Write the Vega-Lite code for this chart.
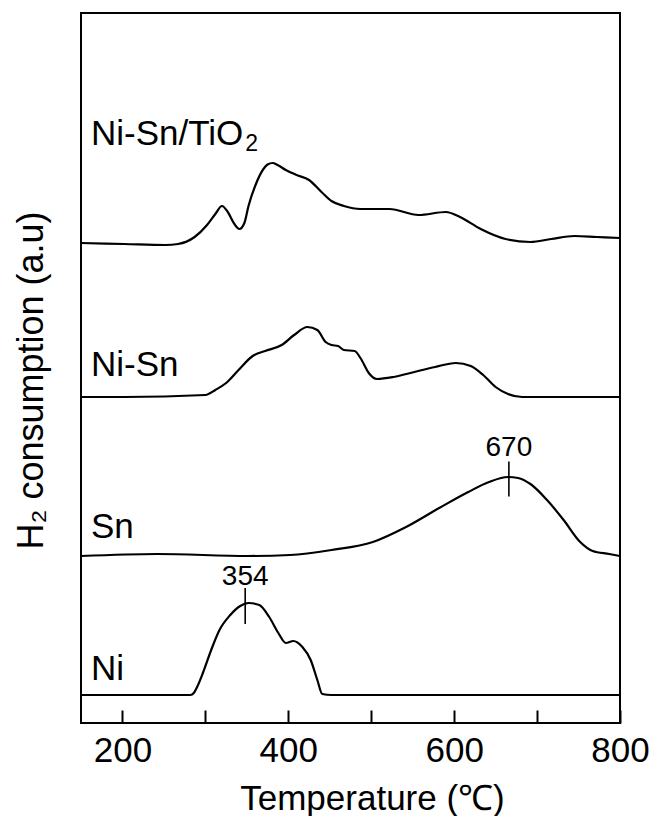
{
  "$schema": "https://vega.github.io/schema/vega-lite/v6.json",
  "width": 539,
  "height": 710,
  "autosize": "none",
  "padding": {"left": 81, "top": 13, "right": 31, "bottom": 93},
  "background": "white",
  "config": {"view": {"stroke": "black", "strokeWidth": 2}, "font": "Liberation Sans"},
  "datasets": {
    "curves": [
      {"s": "Ni-Sn/TiO2", "T": 150, "v": 480}, {"s": "Ni-Sn/TiO2", "T": 202, "v": 479}, {"s": "Ni-Sn/TiO2", "T": 252, "v": 478},
      {"s": "Ni-Sn/TiO2", "T": 267, "v": 479}, {"s": "Ni-Sn/TiO2", "T": 287, "v": 486}, {"s": "Ni-Sn/TiO2", "T": 302, "v": 498},
      {"s": "Ni-Sn/TiO2", "T": 312, "v": 509}, {"s": "Ni-Sn/TiO2", "T": 320, "v": 517}, {"s": "Ni-Sn/TiO2", "T": 327, "v": 511},
      {"s": "Ni-Sn/TiO2", "T": 335, "v": 499}, {"s": "Ni-Sn/TiO2", "T": 341, "v": 494}, {"s": "Ni-Sn/TiO2", "T": 347, "v": 500},
      {"s": "Ni-Sn/TiO2", "T": 352, "v": 517}, {"s": "Ni-Sn/TiO2", "T": 360, "v": 537}, {"s": "Ni-Sn/TiO2", "T": 370, "v": 554},
      {"s": "Ni-Sn/TiO2", "T": 375, "v": 558.5}, {"s": "Ni-Sn/TiO2", "T": 381, "v": 560}, {"s": "Ni-Sn/TiO2", "T": 387, "v": 558},
      {"s": "Ni-Sn/TiO2", "T": 397, "v": 553}, {"s": "Ni-Sn/TiO2", "T": 410, "v": 548}, {"s": "Ni-Sn/TiO2", "T": 425, "v": 543},
      {"s": "Ni-Sn/TiO2", "T": 440, "v": 531}, {"s": "Ni-Sn/TiO2", "T": 452, "v": 522}, {"s": "Ni-Sn/TiO2", "T": 467, "v": 517},
      {"s": "Ni-Sn/TiO2", "T": 487, "v": 514}, {"s": "Ni-Sn/TiO2", "T": 522, "v": 514}, {"s": "Ni-Sn/TiO2", "T": 557, "v": 508},
      {"s": "Ni-Sn/TiO2", "T": 590, "v": 511}, {"s": "Ni-Sn/TiO2", "T": 607, "v": 506}, {"s": "Ni-Sn/TiO2", "T": 632, "v": 494},
      {"s": "Ni-Sn/TiO2", "T": 662, "v": 484}, {"s": "Ni-Sn/TiO2", "T": 692, "v": 481}, {"s": "Ni-Sn/TiO2", "T": 717, "v": 484},
      {"s": "Ni-Sn/TiO2", "T": 745, "v": 487}, {"s": "Ni-Sn/TiO2", "T": 772, "v": 486}, {"s": "Ni-Sn/TiO2", "T": 800, "v": 485},

      {"s": "Ni-Sn", "T": 150, "v": 326}, {"s": "Ni-Sn", "T": 202, "v": 326}, {"s": "Ni-Sn", "T": 300, "v": 328},
      {"s": "Ni-Sn", "T": 312, "v": 333}, {"s": "Ni-Sn", "T": 325, "v": 340}, {"s": "Ni-Sn", "T": 340, "v": 353},
      {"s": "Ni-Sn", "T": 357, "v": 367}, {"s": "Ni-Sn", "T": 372, "v": 372}, {"s": "Ni-Sn", "T": 392, "v": 378},
      {"s": "Ni-Sn", "T": 407, "v": 388}, {"s": "Ni-Sn", "T": 423, "v": 396}, {"s": "Ni-Sn", "T": 435, "v": 393},
      {"s": "Ni-Sn", "T": 445, "v": 381}, {"s": "Ni-Sn", "T": 452, "v": 378}, {"s": "Ni-Sn", "T": 460, "v": 377},
      {"s": "Ni-Sn", "T": 467, "v": 373}, {"s": "Ni-Sn", "T": 480, "v": 372}, {"s": "Ni-Sn", "T": 487, "v": 365},
      {"s": "Ni-Sn", "T": 497, "v": 350}, {"s": "Ni-Sn", "T": 507, "v": 344}, {"s": "Ni-Sn", "T": 527, "v": 346},
      {"s": "Ni-Sn", "T": 552, "v": 351}, {"s": "Ni-Sn", "T": 577, "v": 356}, {"s": "Ni-Sn", "T": 602, "v": 360},
      {"s": "Ni-Sn", "T": 620, "v": 357}, {"s": "Ni-Sn", "T": 635, "v": 348}, {"s": "Ni-Sn", "T": 650, "v": 336},
      {"s": "Ni-Sn", "T": 665, "v": 329}, {"s": "Ni-Sn", "T": 682, "v": 326}, {"s": "Ni-Sn", "T": 800, "v": 326},

      {"s": "Sn", "T": 150, "v": 167}, {"s": "Sn", "T": 242, "v": 169}, {"s": "Sn", "T": 352, "v": 167},
      {"s": "Sn", "T": 402, "v": 168}, {"s": "Sn", "T": 452, "v": 173}, {"s": "Sn", "T": 502, "v": 181},
      {"s": "Sn", "T": 542, "v": 196}, {"s": "Sn", "T": 582, "v": 215}, {"s": "Sn", "T": 617, "v": 231},
      {"s": "Sn", "T": 642, "v": 241}, {"s": "Sn", "T": 665, "v": 246}, {"s": "Sn", "T": 677, "v": 245},
      {"s": "Sn", "T": 692, "v": 239}, {"s": "Sn", "T": 712, "v": 223}, {"s": "Sn", "T": 732, "v": 203},
      {"s": "Sn", "T": 752, "v": 181}, {"s": "Sn", "T": 767, "v": 172}, {"s": "Sn", "T": 787, "v": 169},
      {"s": "Sn", "T": 800, "v": 167},

      {"s": "Ni", "T": 150, "v": 28}, {"s": "Ni", "T": 282, "v": 28}, {"s": "Ni", "T": 286, "v": 30},
      {"s": "Ni", "T": 290, "v": 36}, {"s": "Ni", "T": 297, "v": 50}, {"s": "Ni", "T": 307, "v": 73},
      {"s": "Ni", "T": 317, "v": 93}, {"s": "Ni", "T": 330, "v": 108}, {"s": "Ni", "T": 342, "v": 117},
      {"s": "Ni", "T": 352, "v": 120}, {"s": "Ni", "T": 365, "v": 118}, {"s": "Ni", "T": 377, "v": 106},
      {"s": "Ni", "T": 388, "v": 90}, {"s": "Ni", "T": 397, "v": 80}, {"s": "Ni", "T": 406, "v": 82},
      {"s": "Ni", "T": 417, "v": 76}, {"s": "Ni", "T": 427, "v": 63}, {"s": "Ni", "T": 435, "v": 43},
      {"s": "Ni", "T": 441, "v": 29}, {"s": "Ni", "T": 452, "v": 28}, {"s": "Ni", "T": 800, "v": 28}
    ],
    "labels": [
      {"T": 162, "v": 578, "text": "Ni-Sn/TiO"},
      {"T": 162, "v": 347, "text": "Ni-Sn"},
      {"T": 162, "v": 185, "text": "Sn"},
      {"T": 162, "v": 43, "text": "Ni"}
    ],
    "subs": [
      {"T": 348, "v": 571.6, "text": "2"}
    ],
    "peaks": [
      {"T": 348, "v": 138, "lo": 99, "hi": 135, "text": "354"},
      {"T": 666, "v": 266.6, "lo": 226.6, "hi": 261.6, "text": "670"}
    ]
  },
  "layer": [
    {
      "data": {"name": "curves"},
      "mark": {"type": "line", "interpolate": "monotone", "color": "black", "strokeWidth": 2.2},
      "encoding": {
        "x": {
          "field": "T", "type": "quantitative",
          "scale": {"domain": [150, 800], "nice": false, "zero": false},
          "axis": {
            "values": [200, 300, 400, 500, 600, 700, 800],
            "labelExpr": "datum.value % 200 === 0 ? datum.label : ''",
            "tickSize": -13, "tickColor": "black", "tickWidth": 2,
            "domain": false, "grid": false,
            "labelFontSize": 35, "labelColor": "black", "labelFont": "Liberation Sans",
            "labelBaseline": "alphabetic", "labelPadding": 51.7, "labelFlush": false, "labelOverlap": false,
            "title": "Temperature (℃)", "titleFontSize": 35, "titleFontWeight": "normal", "titleColor": "black",
            "titleFont": "Liberation Sans", "titleX": 291, "titleY": 86, "titleBaseline": "alphabetic", "titleAlign": "center"
          }
        },
        "y": {
          "field": "v", "type": "quantitative",
          "scale": {"domain": [0, 710], "nice": false, "zero": false},
          "axis": {
            "domain": false, "ticks": false, "labels": false, "grid": false,
            "title": "H₂ consumption (a.u)", "titleFontSize": 36, "titleFontWeight": "normal", "titleColor": "black",
            "titleFont": "Liberation Sans", "titleAngle": 270, "titleX": -39, "titleY": 367,
            "titleAlign": "center", "titleBaseline": "alphabetic"
          }
        },
        "detail": {"field": "s"}
      }
    },
    {
      "data": {"name": "labels"},
      "mark": {"type": "text", "align": "left", "baseline": "alphabetic", "fontSize": 35, "color": "black", "font": "Liberation Sans"},
      "encoding": {
        "x": {"field": "T", "type": "quantitative"},
        "y": {"field": "v", "type": "quantitative"},
        "text": {"field": "text"}
      }
    },
    {
      "data": {"name": "subs"},
      "mark": {"type": "text", "align": "left", "baseline": "alphabetic", "fontSize": 23, "color": "black", "font": "Liberation Sans"},
      "encoding": {
        "x": {"field": "T", "type": "quantitative"},
        "y": {"field": "v", "type": "quantitative"},
        "text": {"field": "text"}
      }
    },
    {
      "data": {"name": "peaks"},
      "mark": {"type": "rule", "color": "black", "strokeWidth": 1.6},
      "encoding": {
        "x": {"field": "T", "type": "quantitative"},
        "y": {"field": "lo", "type": "quantitative"},
        "y2": {"field": "hi"}
      }
    },
    {
      "data": {"name": "peaks"},
      "mark": {"type": "text", "align": "center", "baseline": "alphabetic", "fontSize": 28, "color": "black", "font": "Liberation Sans"},
      "encoding": {
        "x": {"field": "T", "type": "quantitative"},
        "y": {"field": "v", "type": "quantitative"},
        "text": {"field": "text"}
      }
    }
  ]
}
